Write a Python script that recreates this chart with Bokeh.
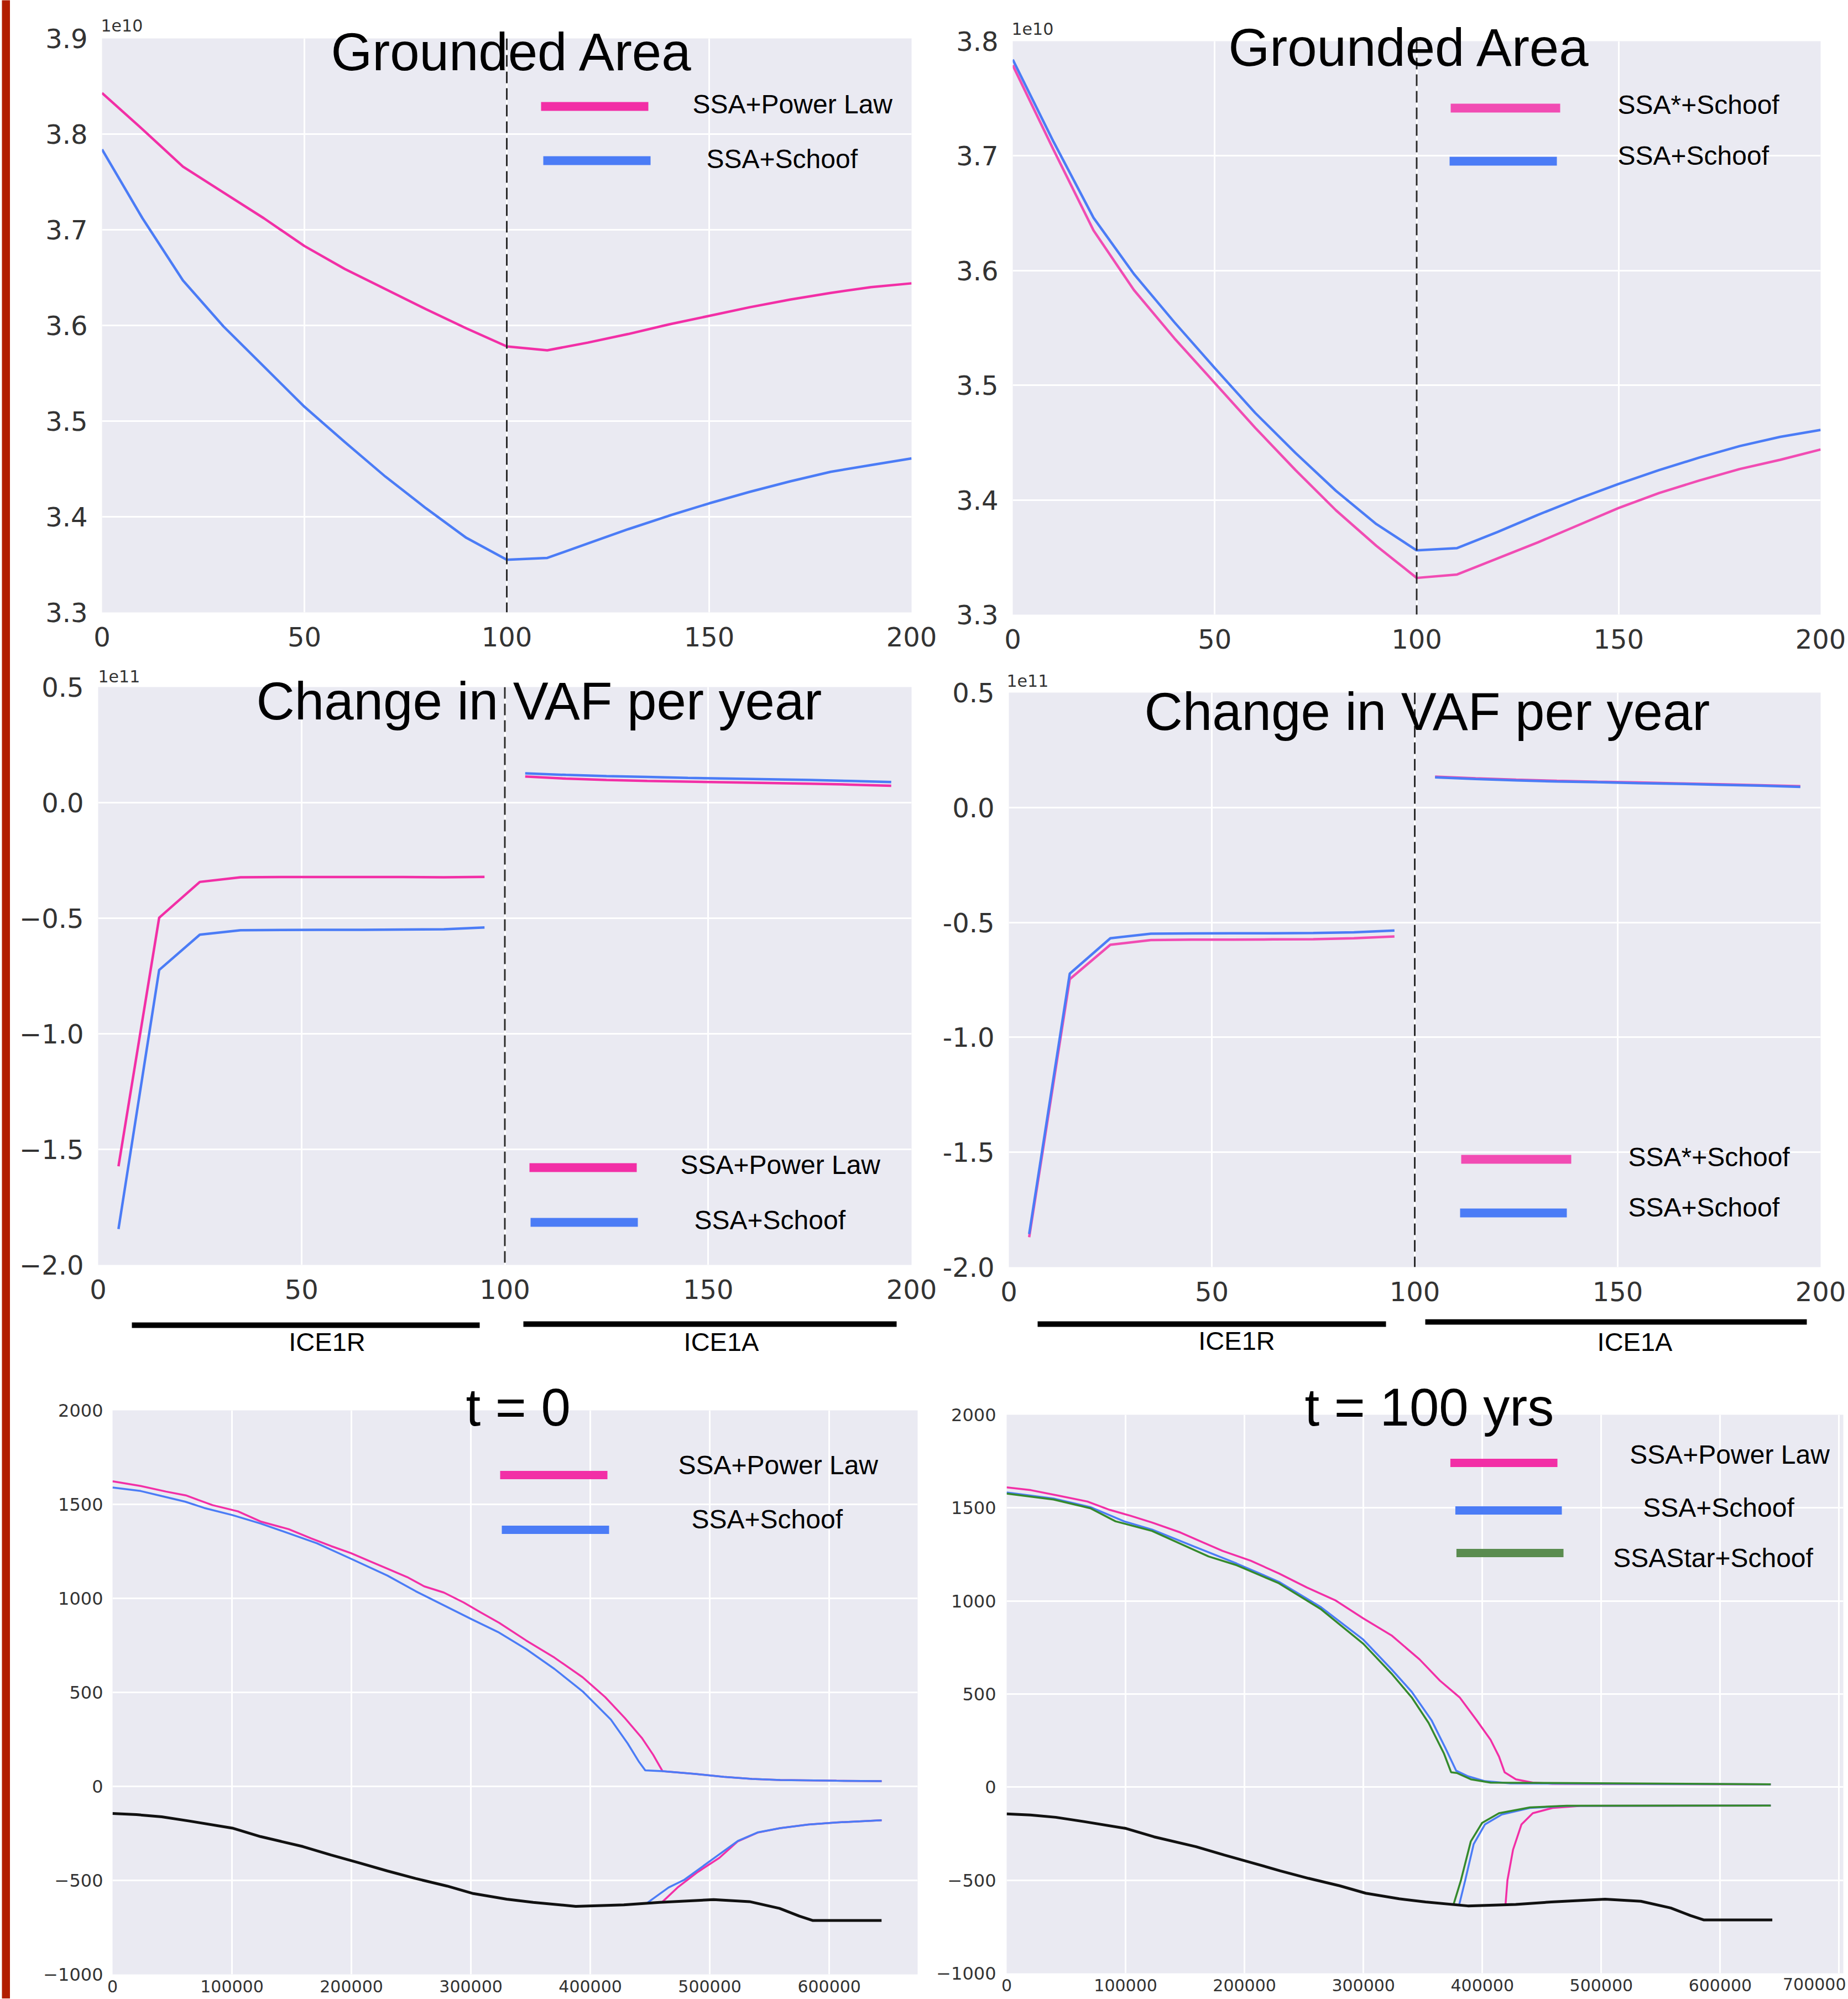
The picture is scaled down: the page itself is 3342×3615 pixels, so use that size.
from bokeh.plotting import figure
from bokeh.layouts import row, column
from bokeh.models import Range1d, FixedTicker, CustomJSTickFormatter, Span
from bokeh.core.properties import value
from bokeh.embed import file_html
from bokeh.resources import INLINE

# ---------------- data ----------------
# Grounded area (units of 1e10) against model year
years = [0, 10, 20, 30, 40, 50, 60, 70, 80, 90, 100, 110, 120, 130, 140, 150, 160, 170, 180, 190, 200]
ga_tl_powerlaw = [3.843, 3.805, 3.766, 3.739, 3.712, 3.683, 3.659, 3.638, 3.617, 3.597, 3.578,
                  3.574, 3.582, 3.591, 3.601, 3.610, 3.619, 3.627, 3.634, 3.640, 3.644]
ga_tl_schoof = [3.784, 3.712, 3.647, 3.599, 3.557, 3.515, 3.478, 3.442, 3.409, 3.378, 3.355,
                3.357, 3.372, 3.387, 3.401, 3.414, 3.426, 3.437, 3.447, 3.454, 3.461]
ga_tr_ssastar = [3.779, 3.706, 3.635, 3.583, 3.541, 3.502, 3.463, 3.426, 3.391, 3.360, 3.332,
                 3.335, 3.349, 3.363, 3.378, 3.393, 3.406, 3.417, 3.427, 3.435, 3.444]
ga_tr_schoof = [3.784, 3.713, 3.646, 3.597, 3.555, 3.515, 3.476, 3.441, 3.408, 3.379, 3.356,
                3.358, 3.372, 3.387, 3.401, 3.414, 3.426, 3.437, 3.447, 3.455, 3.461]

# Change in VAF per year (units of 1e11)
vaf_years_ice1r = [5, 15, 25, 35, 45, 55, 65, 75, 85, 95]
vaf_years_ice1a = [105, 115, 125, 135, 145, 155, 165, 175, 185, 195]
vaf_ml_powerlaw_r = [-1.573, -0.498, -0.343, -0.323, -0.322, -0.322, -0.322, -0.322, -0.323, -0.321]
vaf_ml_schoof_r = [-1.845, -0.724, -0.571, -0.552, -0.551, -0.550, -0.550, -0.549, -0.548, -0.540]
vaf_ml_powerlaw_a = [0.113, 0.104, 0.098, 0.094, 0.091, 0.088, 0.085, 0.082, 0.078, 0.073]
vaf_ml_schoof_a = [0.127, 0.120, 0.115, 0.111, 0.107, 0.104, 0.101, 0.098, 0.094, 0.089]
vaf_mr_ssastar_r = [-1.870, -0.747, -0.597, -0.577, -0.575, -0.575, -0.574, -0.573, -0.569, -0.561]
vaf_mr_schoof_r = [-1.856, -0.723, -0.569, -0.549, -0.548, -0.547, -0.547, -0.546, -0.543, -0.535]
vaf_mr_ssastar_a = [0.134, 0.127, 0.121, 0.116, 0.112, 0.109, 0.105, 0.101, 0.097, 0.093]
vaf_mr_schoof_a = [0.131, 0.124, 0.118, 0.113, 0.110, 0.106, 0.103, 0.099, 0.095, 0.090]

# Profiles (x in m, elevation in m)
bed_x = [0, 20000, 41200, 64900, 100300, 123900, 159300, 183000, 206600, 230200, 253800, 280000,
         302000, 330000, 352200, 387800, 428000, 458000, 503200, 533300, 558400, 575000, 586000, 643800]
bed_y = [-144, -150, -162, -185, -222, -267, -320, -365, -407, -450, -490, -530,
         -570, -600, -617, -638, -630, -617, -602, -613, -649, -690, -713, -713]

t0_powerlaw_top_x = [0, 23500, 44800, 61300, 71900, 83700, 105000, 123900, 147500, 166400, 183000, 199500,
                     216000, 230200, 246700, 260900, 277400, 294000, 308100, 323700, 346300, 369900, 393600,
                     412400, 429000, 443100, 452600, 460400, 488000, 511700, 535300, 558900, 606100, 643900]
t0_powerlaw_top_y = [1623, 1598, 1568, 1548, 1523, 1496, 1463, 1409, 1368, 1319, 1278, 1241,
                     1196, 1158, 1113, 1064, 1031, 978, 926, 870, 776, 685, 580,
                     475, 363, 258, 168, 81, 66, 51, 40, 34, 30, 28]
t0_schoof_top_x = [0, 23500, 41200, 61000, 76700, 100300, 123900, 147500, 171100, 199500, 230200, 253800,
                   277400, 301000, 322700, 346300, 369900, 393600, 417200, 431300, 440800, 446000, 460400,
                   488000, 511700, 535300, 558900, 606100, 643900]
t0_schoof_top_y = [1590, 1571, 1544, 1514, 1481, 1443, 1398, 1346, 1293, 1211, 1121, 1038,
                   963, 888, 821, 730, 625, 505, 355, 228, 130, 85, 81,
                   66, 51, 40, 34, 30, 28]
t0_powerlaw_base_x = [459700, 473000, 490000, 508000, 523500, 540000, 558900, 582500, 606100, 643900]
t0_powerlaw_base_y = [-618, -538, -455, -380, -292, -246, -222, -203, -192, -180]
t0_schoof_base_x = [448000, 465500, 478600, 502200, 523500, 540000, 558900, 582500, 606100, 643900]
t0_schoof_base_y = [-618, -538, -497, -388, -290, -245, -222, -203, -192, -180]

t100_powerlaw_top_x = [0, 20500, 44200, 67900, 86800, 103400, 122300, 146000, 164900, 181500, 205200, 228900,
                       252500, 276200, 299900, 323600, 347200, 364300, 380900, 395100, 406900, 414000,
                       418700, 428200, 442400, 459000, 642500]
t100_powerlaw_top_y = [1610, 1595, 1565, 1534, 1489, 1459, 1421, 1368, 1315, 1269, 1216, 1148,
                       1072, 1004, 906, 815, 686, 572, 482, 360, 254, 164,
                       80, 42, 24, 18, 15]
t100_schoof_top_x = [0, 39400, 70300, 98700, 122300, 157800, 193400, 228900, 264400, 299900, 323600,
                     340600, 357200, 369000, 378000, 388000, 402200, 423500, 642500]
t100_schoof_top_y = [1583, 1550, 1504, 1428, 1383, 1292, 1201, 1103, 966, 792, 633,
                     512, 360, 209, 88, 58, 32, 20, 15]
t100_ssastar_top_x = [0, 39400, 70300, 91500, 122300, 169700, 193400, 228900, 264400, 299900, 323600,
                      340600, 354800, 367800, 373700, 378500, 390300, 406900, 642500]
t100_ssastar_top_y = [1577, 1545, 1498, 1428, 1376, 1239, 1192, 1095, 955, 770, 610,
                      482, 345, 179, 80, 76, 42, 24, 15]
t100_powerlaw_base_x = [419500, 421100, 425800, 432900, 442400, 459000, 482600, 642500]
t100_powerlaw_base_y = [-628, -500, -336, -200, -140, -112, -101, -99]
t100_schoof_base_x = [380500, 385600, 392700, 402200, 416400, 440000, 470800, 642500]
t100_schoof_base_y = [-632, -500, -306, -200, -147, -112, -101, -99]
t100_ssastar_base_x = [375700, 382000, 390300, 399800, 414000, 440000, 470800, 642500]
t100_ssastar_base_y = [-632, -500, -291, -192, -140, -109, -100, -99]

# ---------------- style ----------------
PINK = "#f22fa6"
PINK2 = "#f14cb3"
BLUE = "#4b7cf6"
GREEN = "#358a2c"
GREEN_LEG = "#5a8c4f"
BED = "#111111"
BG = "#eaeaf2"
RED = "#b21e00"
TICK_COLOR = "#333333"
TICK_FONT = "DejaVu Sans"
TEXT_FONT = "Liberation Sans"
TITLE_SIZE = 96
LW_TOP = 4.5
LW_PROF = 3.5


def fmt(decimals, minus):
    return CustomJSTickFormatter(
        code="var s = tick.toFixed(%d); return s.replace('-', '%s');" % (decimals, minus))


def mapping(fl, fr, ft, fb, xr, yr):
    def X(px):
        return xr[0] + (px - fl) / (fr - fl) * (xr[1] - xr[0])

    def Y(py):
        return yr[1] - (py - ft) / (fb - ft) * (yr[1] - yr[0])
    return X, Y


def make_panel(geo, xr, yr, xticks, yticks, xfmt, yfmt, xsize, ysize, xst, yst, gridx=None):
    ox, oy, w, h, fl, fr, ft, fb = geo
    p = figure(width=w, height=h, title=None, x_range=Range1d(*xr), y_range=Range1d(*yr),
               output_backend="svg", toolbar_location=None,
               min_border_left=fl - ox, min_border_right=ox + w - fr,
               min_border_top=ft - oy, min_border_bottom=oy + h - fb,
               background_fill_color=BG, border_fill_color="white", outline_line_color=None)
    for ax, ticks, f, size, st in ((p.xaxis[0], xticks, xfmt, xsize, xst),
                                   (p.yaxis[0], yticks, yfmt, ysize, yst)):
        ax.ticker = FixedTicker(ticks=ticks)
        ax.formatter = f
        ax.axis_line_color = None
        ax.major_tick_line_color = None
        ax.minor_tick_line_color = None
        ax.major_tick_out = 0
        ax.major_tick_in = 0
        ax.minor_tick_out = 0
        ax.minor_tick_in = 0
        ax.major_label_standoff = st
        ax.major_label_text_font = TICK_FONT
        ax.major_label_text_font_size = "%dpx" % size
        ax.major_label_text_color = TICK_COLOR
    p.xgrid.ticker = FixedTicker(ticks=gridx if gridx is not None else xticks)
    p.ygrid.ticker = FixedTicker(ticks=yticks)
    for g in (p.xgrid, p.ygrid):
        g.grid_line_color = "white"
        g.grid_line_width = 3
    X, Y = mapping(fl, fr, ft, fb, xr, yr)
    return p, X, Y


def make_strip(geo, x_range):
    ox, oy, w, h, fl, fr = geo
    p = figure(width=w, height=h, title=None, x_range=x_range, y_range=Range1d(0, h),
               output_backend="svg", toolbar_location=None,
               min_border_left=fl - ox, min_border_right=ox + w - fr, min_border_top=0, min_border_bottom=0,
               x_axis_type=None, y_axis_type=None, background_fill_color="white",
               border_fill_color="white", outline_line_color=None)
    p.xgrid.visible = False
    p.ygrid.visible = False
    X, Y = mapping(fl, fr, oy, oy + h, (x_range.start, x_range.end), (0, h))
    return p, X, Y


def text(p, X, Y, px, py, s, size, font=TEXT_FONT, align="left", color="black", ax=None, ay=None):
    # anchor kept inside the frame; pixel offsets move the text to its place
    ax = px if ax is None else ax
    ay = py if ay is None else ay
    corr = 0.39 * size
    p.text(x=[X(ax)], y=[Y(ay)], text=[s], x_offset=px - ax, y_offset=py - ay - corr,
           text_font=value(font), text_font_size=value("%dpx" % size),
           text_align=align, text_baseline="alphabetic", text_color=color, level="overlay")


def swatch(p, X, Y, x0, x1, y, color, lw=16):
    p.line([X(x0), X(x1)], [Y(y), Y(y)], line_color=color, line_width=lw, line_cap="butt")


def vline(p):
    p.add_layout(Span(location=100, dimension="height", line_color="#2a2a2a",
                      line_dash="21 9", line_width=3))


TOP_X = [0, 50, 100, 150, 200]
ROW1_H = 1198
ROW2_Y = ROW1_H

# ---------------- Grounded area, left ----------------
tl, X, Y = make_panel((18, 0, 1682, ROW1_H, 184, 1648, 69, 1107), (0, 200), (3.3, 3.9), TOP_X,
                      [3.3, 3.4, 3.5, 3.6, 3.7, 3.8, 3.9], fmt(0, ''), fmt(1, '-'), 48, 48, 26, 26)
tl.line(years, ga_tl_powerlaw, line_color=PINK, line_width=LW_TOP)
tl.line(years, ga_tl_schoof, line_color=BLUE, line_width=LW_TOP)
vline(tl)
text(tl, X, Y, 598, 130, "Grounded Area", TITLE_SIZE)
text(tl, X, Y, 182, 57, "1e10", 30, font=TICK_FONT, color=TICK_COLOR, ax=192, ay=90)
swatch(tl, X, Y, 978, 1172, 192, PINK)
swatch(tl, X, Y, 982, 1176, 290, BLUE)
text(tl, X, Y, 1252, 207, "SSA+Power Law", 48)
text(tl, X, Y, 1277, 306, "SSA+Schoof", 48)

# ---------------- Grounded area, right ----------------
tr, X, Y = make_panel((1700, 0, 1641, ROW1_H, 1831, 3292, 74, 1111), (0, 200), (3.3, 3.8), TOP_X,
                      [3.3, 3.4, 3.5, 3.6, 3.7, 3.8], fmt(0, ''), fmt(1, '-'), 48, 48, 26, 26)
tr.line(years, ga_tr_ssastar, line_color=PINK2, line_width=LW_TOP)
tr.line(years, ga_tr_schoof, line_color=BLUE, line_width=LW_TOP)
vline(tr)
text(tr, X, Y, 2221, 122, "Grounded Area", TITLE_SIZE)
text(tr, X, Y, 1829, 63, "1e10", 30, font=TICK_FONT, color=TICK_COLOR, ax=1840, ay=95)
swatch(tr, X, Y, 2623, 2821, 195, PINK2)
swatch(tr, X, Y, 2621, 2815, 291, BLUE)
text(tr, X, Y, 2925, 208, "SSA*+Schoof", 48)
text(tr, X, Y, 2925, 300, "SSA+Schoof", 48)

VAF_Y = [-2.0, -1.5, -1.0, -0.5, 0.0, 0.5]
MID_H = 2385 - ROW2_Y

# ---------------- VAF, left ----------------
ml, X, Y = make_panel((18, ROW2_Y, 1679, MID_H, 177, 1648, 1242, 2287), (0, 200), (-2.0, 0.5), TOP_X,
                      VAF_Y, fmt(0, ''), fmt(1, '\u2212'), 48, 48, 26, 26)
ml.line(vaf_years_ice1r, vaf_ml_powerlaw_r, line_color=PINK, line_width=LW_TOP)
ml.line(vaf_years_ice1r, vaf_ml_schoof_r, line_color=BLUE, line_width=LW_TOP)
ml.line(vaf_years_ice1a, vaf_ml_powerlaw_a, line_color=PINK, line_width=LW_TOP)
ml.line(vaf_years_ice1a, vaf_ml_schoof_a, line_color=BLUE, line_width=LW_TOP)
vline(ml)
text(ml, X, Y, 463, 1304, "Change in VAF per year", TITLE_SIZE)
text(ml, X, Y, 177, 1234, "1e11", 30, font=TICK_FONT, color=TICK_COLOR, ax=187, ay=1265)
swatch(ml, X, Y, 957, 1151, 2111, PINK)
swatch(ml, X, Y, 959, 1153, 2210, BLUE)
text(ml, X, Y, 1230, 2125, "SSA+Power Law", 48)
text(ml, X, Y, 1255, 2225, "SSA+Schoof", 48)

mls, X, Y = make_strip((18, 2385, 1679, 85, 177, 1648), ml.x_range)
swatch(mls, X, Y, 238, 867, 2396, "black", 10)
swatch(mls, X, Y, 946, 1621, 2394, "black", 10)
text(mls, X, Y, 591, 2444, "ICE1R", 47, align="center")
text(mls, X, Y, 1304, 2444, "ICE1A", 47, align="center")

# ---------------- VAF, right ----------------
mr, X, Y = make_panel((1697, ROW2_Y, 1644, MID_H, 1824, 3292, 1252, 2291), (0, 200), (-2.0, 0.5), TOP_X,
                      VAF_Y, fmt(0, ''), fmt(1, '-'), 48, 48, 26, 26)
mr.line(vaf_years_ice1r, vaf_mr_ssastar_r, line_color=PINK2, line_width=LW_TOP)
mr.line(vaf_years_ice1r, vaf_mr_schoof_r, line_color=BLUE, line_width=LW_TOP)
mr.line(vaf_years_ice1a, vaf_mr_ssastar_a, line_color=PINK2, line_width=LW_TOP)
mr.line(vaf_years_ice1a, vaf_mr_schoof_a, line_color=BLUE, line_width=LW_TOP)
vline(mr)
text(mr, X, Y, 2069, 1323, "Change in VAF per year", TITLE_SIZE)
text(mr, X, Y, 1820, 1242, "1e11", 30, font=TICK_FONT, color=TICK_COLOR, ax=1832, ay=1275)
swatch(mr, X, Y, 2642, 2841, 2096, PINK2)
swatch(mr, X, Y, 2640, 2833, 2193, BLUE)
text(mr, X, Y, 2944, 2111, "SSA*+Schoof", 48)
text(mr, X, Y, 2944, 2202, "SSA+Schoof", 48)

mrs, X, Y = make_strip((1697, 2385, 1644, 85, 1824, 3292), mr.x_range)
swatch(mrs, X, Y, 1876, 2506, 2394, "black", 10)
swatch(mrs, X, Y, 2577, 3267, 2390, "black", 10)
text(mrs, X, Y, 2236, 2442, "ICE1R", 47, align="center")
text(mrs, X, Y, 2956, 2444, "ICE1A", 47, align="center")

PROF_X = [0, 100000, 200000, 300000, 400000, 500000, 600000]
PROF_GRID_X = [0, 100000, 200000, 300000, 400000, 500000, 600000, 700000]
PROF_Y = [-1000, -500, 0, 500, 1000, 1500, 2000]

# ---------------- profile t = 0 ----------------
bl, X, Y = make_panel((18, 2470, 1672, 1144, 203, 1659, 2550, 3570), (0, 674000), (-1000, 2000), PROF_X,
                      PROF_Y, fmt(0, ''), fmt(0, '\u2212'), 30, 32, 10, 17, gridx=PROF_GRID_X)
bl.line(t0_powerlaw_top_x, t0_powerlaw_top_y, line_color=PINK, line_width=LW_PROF)
bl.line(t0_schoof_top_x, t0_schoof_top_y, line_color=BLUE, line_width=LW_PROF)
bl.line(t0_powerlaw_base_x, t0_powerlaw_base_y, line_color=PINK, line_width=LW_PROF)
bl.line(t0_schoof_base_x, t0_schoof_base_y, line_color=BLUE, line_width=LW_PROF)
bl.line(bed_x, bed_y, line_color=BED, line_width=5)
text(bl, X, Y, 842, 2581, "t = 0", TITLE_SIZE)
swatch(bl, X, Y, 904, 1098, 2667, PINK, 15)
swatch(bl, X, Y, 907, 1101, 2766, BLUE, 15)
text(bl, X, Y, 1226, 2668, "SSA+Power Law", 48)
text(bl, X, Y, 1250, 2766, "SSA+Schoof", 48)

# ---------------- profile t = 100 yrs ----------------
br, X, Y = make_panel((1690, 2470, 1651, 1144, 1817, 3333, 2558, 3568), (0, 703500), (-1000, 2000), PROF_X,
                      PROF_Y, fmt(0, ''), fmt(0, '\u2212'), 30, 32, 10, 19, gridx=PROF_GRID_X)
br.line(t100_powerlaw_top_x, t100_powerlaw_top_y, line_color=PINK, line_width=LW_PROF)
br.line(t100_schoof_top_x, t100_schoof_top_y, line_color=BLUE, line_width=LW_PROF)
br.line(t100_ssastar_top_x, t100_ssastar_top_y, line_color=GREEN, line_width=LW_PROF)
br.line(t100_powerlaw_base_x, t100_powerlaw_base_y, line_color=PINK, line_width=LW_PROF)
br.line(t100_schoof_base_x, t100_schoof_base_y, line_color=BLUE, line_width=LW_PROF)
br.line(t100_ssastar_base_x, t100_ssastar_base_y, line_color=GREEN, line_width=LW_PROF)
br.line(bed_x, bed_y, line_color=BED, line_width=5)
text(br, X, Y, 2357, 2581, "t = 100 yrs", TITLE_SIZE)
swatch(br, X, Y, 2621, 2815, 2645, PINK, 15)
swatch(br, X, Y, 2630, 2823, 2731, BLUE, 15)
swatch(br, X, Y, 2632, 2826, 2808, GREEN_LEG, 15)
text(br, X, Y, 2946, 2649, "SSA+Power Law", 48)
text(br, X, Y, 2970, 2745, "SSA+Schoof", 48)
text(br, X, Y, 2916, 2836, "SSAStar+Schoof", 48)
# last x tick label, kept fully inside the page at its right edge
text(br, X, Y, 3338, 3599, "700000", 30, font=TICK_FONT, color=TICK_COLOR, align="right", ax=3325, ay=3560)

# ---------------- red edge bar ----------------
red = figure(width=18, height=3614, title=None, output_backend="svg", toolbar_location=None,
             min_border_left=3, min_border_right=0, min_border_top=0, min_border_bottom=0,
             x_axis_type=None, y_axis_type=None,
             background_fill_color=RED, border_fill_color="white", outline_line_color=None)

# each panel sits in its own column so that row() does not align their frames
layout = row(red, column(row(column(tl), column(tr)),
                         row(column(ml, mls), column(mr, mrs)),
                         row(column(bl), column(br))))

open("out.html", "w").write(file_html(layout, INLINE, "plot"))
